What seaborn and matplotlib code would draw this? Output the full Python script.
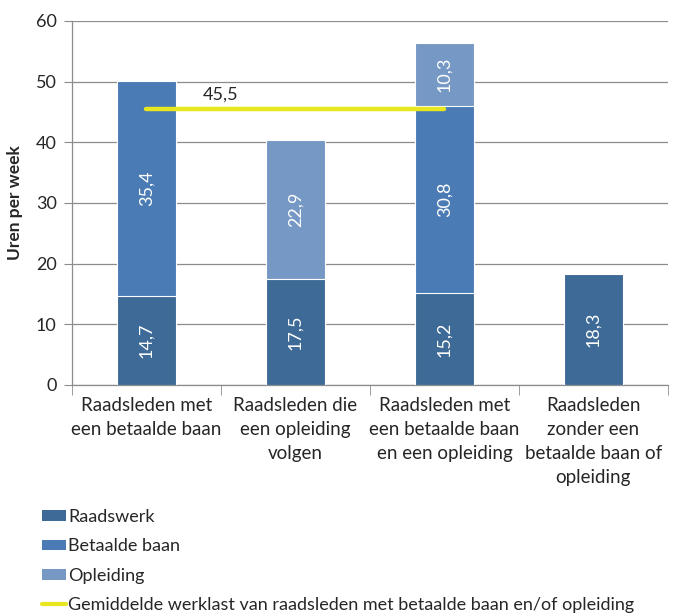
import numpy as np
import pandas as pd
import seaborn as sns
import matplotlib.pyplot as plt
from matplotlib.patches import Patch
from matplotlib.lines import Line2D

categories = [
    "Raadsleden met\neen betaalde baan",
    "Raadsleden die\neen opleiding\nvolgen",
    "Raadsleden met\neen betaalde baan\nen een opleiding",
    "Raadsleden\nzonder een\nbetaalde baan of\nopleiding",
]
raadswerk = [14.7, 17.5, 15.2, 18.3]
betaalde_baan = [35.4, 0.0, 30.8, 0.0]
opleiding = [0.0, 22.9, 10.3, 0.0]
gemiddelde = 45.5

series_names = ["Raadswerk", "Betaalde baan", "Opleiding"]
avg_label = "Gemiddelde werklast van raadsleden met betaalde baan en/of opleiding"
colors = {"Raadswerk": "#3E6A97", "Betaalde baan": "#4A7BB4", "Opleiding": "#7698C5"}
yellow = "#E8E61E"

df = pd.DataFrame({
    "cat": categories,
    "Raadswerk": raadswerk,
    "Betaalde baan": betaalde_baan,
    "Opleiding": opleiding,
})
cum = df[series_names].cumsum(axis=1)

sns.set_style("white")
plt.rcParams["font.family"] = ["Lato", "DejaVu Sans"]

fig = plt.figure(figsize=(6.76, 6.14), dpi=100)
ax = fig.add_axes([0.1065, 0.373, 0.8815, 0.593])

# draw stacked bars: tallest cumulative first, then overlay lower layers
for name in reversed(series_names):
    sns.barplot(x=df["cat"], y=cum[name], color=colors[name], width=0.4,
                edgecolor="white", linewidth=0.8, saturation=1, ax=ax, zorder=3)

# segment labels
for i in range(len(categories)):
    base = 0.0
    for name in series_names:
        v = df.loc[i, name]
        if v > 0:
            ax.text(i, base + v / 2, f"{v:.1f}".replace(".", ","), rotation=90,
                    ha="center", va="center", color="white", fontsize=13, zorder=5)
        base += v

# average line over the categories with a job and/or study
ax.plot([0, 2], [gemiddelde, gemiddelde], color=yellow, lw=3.2,
        solid_capstyle="round", zorder=6)
ax.text(0.5, 47.8, f"{gemiddelde:.1f}".replace(".", ","), ha="center",
        va="center", fontsize=13, zorder=6)

ax.set_ylim(0, 60)
ax.set_xlim(-0.5, len(categories) - 0.5)
ax.set_yticks(np.arange(0, 61, 10))
ax.yaxis.grid(True, color="#8C8C8C", lw=0.9, zorder=0)
ax.set_axisbelow(True)
for s in ["top", "right"]:
    ax.spines[s].set_visible(False)
for s in ["left", "bottom"]:
    ax.spines[s].set_color("#8C8C8C")
    ax.spines[s].set_linewidth(0.9)

ax.set_xlabel("")
ax.set_ylabel("Uren per week", fontsize=12.5, fontweight="bold", labelpad=9)
ax.tick_params(axis="y", length=6, color="#8C8C8C", labelsize=13, pad=5, left=True)
ax.tick_params(axis="x", length=0, labelsize=13.5, pad=9)
for lab in ax.get_xticklabels():
    lab.set_linespacing(1.5)
ax.set_xticks(np.arange(-0.5, len(categories), 1.0), minor=True)
ax.tick_params(axis="x", which="minor", length=7, color="#8C8C8C", bottom=True)

handles = [Patch(facecolor=colors[n], edgecolor="none") for n in series_names]
handles.append(Line2D([0], [0], color=yellow, lw=3))
fig.legend(handles, series_names + [avg_label], loc="upper left",
           bbox_to_anchor=(0.062, 0.171), frameon=False, fontsize=13,
           handlelength=1.35, handleheight=0.55, handletextpad=0.1,
           labelspacing=0.74, borderpad=0, borderaxespad=0)

fig.savefig("out.png", dpi=100)
